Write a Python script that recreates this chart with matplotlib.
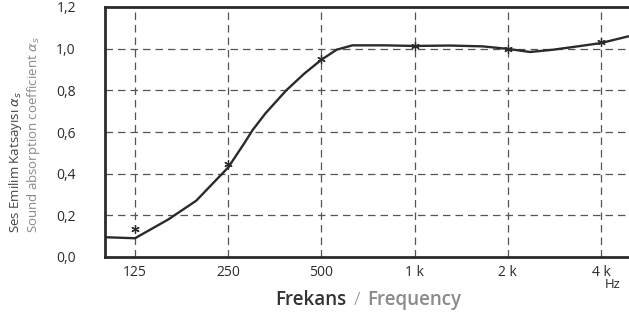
import matplotlib.pyplot as plt
from matplotlib.ticker import FixedLocator, FixedFormatter, NullLocator

# curve (Hz, absorption coefficient)
curve_freq = [100, 125, 160, 197, 250, 280, 300, 330, 385, 440, 500, 560, 630, 800, 1000, 1300, 1660, 2000, 2357, 2800, 3400, 4000, 4925]
curve_alpha = [0.095, 0.09, 0.18, 0.27, 0.43, 0.54, 0.61, 0.69, 0.80, 0.88, 0.947, 0.995, 1.016, 1.016, 1.013, 1.015, 1.011, 0.999, 0.984, 0.995, 1.012, 1.027, 1.06]

# measured points (stars)
meas_freq = [125, 250, 500, 1000, 2000, 4000]
meas_alpha = [0.135, 0.447, 0.95, 1.012, 1.0, 1.03]

xtick_vals = [125, 250, 500, 1000, 2000, 4000]
xtick_labels = ["125", "250", "500", "1 k", "2 k", "4 k"]
ytick_vals = [0.0, 0.2, 0.4, 0.6, 0.8, 1.0, 1.2]
ytick_labels = ["0,0", "0,2", "0,4", "0,6", "0,8", "1,0", "1,2"]

DARK = "#2b2b2b"
GREY = "#8a8a8a"
FONT = "Open Sans"

fig = plt.figure(figsize=(6.29, 3.14), dpi=100)
ax = fig.add_axes([105 / 629, 1 - 257 / 314, 1 - 105 / 629, 250 / 314])

ax.set_xscale("log")
ax.set_xlim(100, 4925)
ax.set_ylim(0, 1.2)

# dashed grid
for f in xtick_vals:
  ax.axvline(f, color="#555555", lw=0.9, dashes=(6, 4), zorder=1)
for v in ytick_vals[1:-1]:
  ax.axhline(v, color="#555555", lw=0.9, dashes=(6, 4), zorder=1)

ax.plot(curve_freq, curve_alpha, color=DARK, lw=1.7, zorder=3, solid_capstyle="butt")
ax.plot(meas_freq, meas_alpha, linestyle="none", marker=(6, 2, 0), ms=6,
        color=DARK, mew=0.9, zorder=4)

ax.xaxis.set_major_locator(FixedLocator(xtick_vals))
ax.xaxis.set_major_formatter(FixedFormatter(xtick_labels))
ax.xaxis.set_minor_locator(NullLocator())
ax.yaxis.set_major_locator(FixedLocator(ytick_vals))
ax.yaxis.set_major_formatter(FixedFormatter(ytick_labels))

ax.tick_params(axis="x", length=0, pad=6, labelsize=10, labelcolor=DARK)
ax.tick_params(axis="y", length=0, pad=21, labelsize=10, labelcolor=DARK)
for lab in ax.get_xticklabels() + ax.get_yticklabels():
  lab.set_family(FONT)

for side in ["left", "bottom", "top"]:
  ax.spines[side].set_color(DARK)
  ax.spines[side].set_linewidth(2.0)
ax.spines["right"].set_visible(False)

# y label, two lines in two greys, both starting at the same bottom point
fig.text(15 / 629, 1 - 233 / 314, r"Ses Emilim Katsayısı $\alpha_s$", rotation=90,
         rotation_mode="anchor", ha="left", va="center", color="#444444",
         fontsize=9.5, family=FONT)
fig.text(33 / 629, 1 - 233 / 314, r"Sound absorption coefficient $\alpha_s$", rotation=90,
         rotation_mode="anchor", ha="left", va="center", color=GREY,
         fontsize=9.5, family=FONT)

# x label
cy = 1 - 300 / 314
fig.text(357 / 629, cy, "/", ha="center", va="center", color=GREY, fontsize=13.5,
         family=FONT, fontweight="light")
fig.text(346 / 629, cy, "Frekans", ha="right", va="center", color="#333333",
         fontsize=13.5, family=FONT, fontweight="semibold")
fig.text(367 / 629, cy, "Frequency", ha="left", va="center", color=GREY,
         fontsize=13.5, family=FONT, fontweight="semibold")

fig.text(613 / 629, 1 - 284 / 314, "Hz", ha="center", va="center", color=DARK,
         fontsize=9.5, family=FONT)

fig.savefig("out.png", dpi=100)
